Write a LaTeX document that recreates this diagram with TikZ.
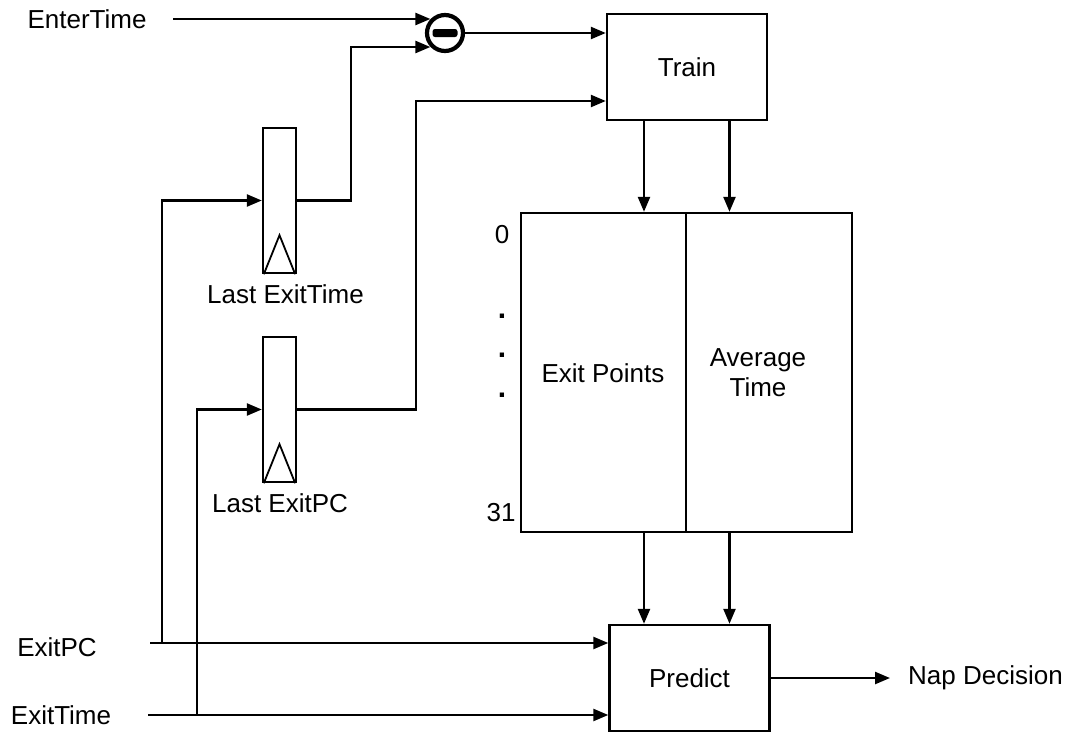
\documentclass[tikz,border=0pt]{standalone}
\usepackage{fontspec}
\setmainfont{Liberation Sans}
\usetikzlibrary{arrows.meta,calc}
\begin{document}
\begin{tikzpicture}[x=1pt,y=-1pt,
  font=\fontsize{26}{30}\selectfont,
  wire/.style={line width=2.4pt},
  arr/.style={wire,-{Triangle[length=15pt,width=12pt]}},
  blk/.style={draw,line width=2.4pt,inner sep=0pt},
  txt/.style={inner sep=0pt,align=center},
  regbox/.style={blk,minimum width=33pt,minimum height=145pt},
  clk/.style={line width=1.8pt},
  dotlbl/.style={txt,anchor=base,font=\fontsize{30}{30}\selectfont\bfseries}
]
\useasboundingbox (0,0) rectangle (1071,732);

% blocks
\node[blk,minimum width=160pt,minimum height=106pt] (train) at (687,67) {Train};
\node[blk,minimum width=165pt,minimum height=319pt] (epcol) at (603.5,372.5) {};
\node[blk,minimum width=166pt,minimum height=319pt] (atcol) at (769,372.5) {};
\node[txt] (eptxt) at (603,373) {Exit Points};
\node[txt] (attxt) at (758,373) {Average\\Time};
\node[blk,minimum width=160pt,minimum height=106pt] (predict) at (689.5,678) {Predict};

% row index labels
\node[txt] (i0) at (502,235) {0};
\node[dotlbl] (d1) at (502,318) {.};
\node[dotlbl] (d2) at (502,357) {.};
\node[dotlbl] (d3) at (502,397) {.};
\node[txt] (i31) at (501,513) {31};

% registers
\node[regbox] (reg1) at (279.5,200.5) {};
\draw[clk] ($(reg1.south west)+(2,0)$) -- ($(reg1.south)+(0,-39)$) -- ($(reg1.south east)+(-2,0)$);
\node[txt] (reg1lbl) at (285.5,294) {Last ExitTime};
\node[regbox] (reg2) at (279.5,409.5) {};
\draw[clk] ($(reg2.south west)+(2,0)$) -- ($(reg2.south)+(0,-39)$) -- ($(reg2.south east)+(-2,0)$);
\node[txt] (reg2lbl) at (280,503) {Last ExitPC};

% subtractor
\node[draw,circle,line width=4.2pt,minimum size=36pt,inner sep=0pt] (sub) at (445,33) {};
\fill[rounded corners=2.5pt] ($(sub.center)+(-12.5,-4)$) rectangle ($(sub.center)+(12.5,4)$);

% input / output labels
\node[txt] (enter) at (87,19) {EnterTime};
\node[txt] (exitpc) at (57,647) {ExitPC};
\node[txt] (exittime) at (61,715) {ExitTime};
\node[txt,anchor=west] (nap) at (908,678) {Nap Decision};

% helper coordinates
\coordinate (es) at (173,19);
\coordinate (b1) at (351,200.5);
\coordinate (b1t) at (351,47);
\coordinate (b2) at (416,409.5);
\coordinate (b2t) at (416,101);
\coordinate (pcs) at (150,643);
\coordinate (pcj) at (162,643);
\coordinate (pcu) at (162,200.5);
\coordinate (ts) at (148,715);
\coordinate (tj) at (197,715);
\coordinate (tu) at (197,409.5);
\coordinate (c1) at (644,0);
\coordinate (c2) at (729.5,0);

% wires
\draw[arr] (es) -- ($(sub.center)+(-14.6,-14)$);
\draw[arr] (reg1.east) -- (b1) -- (b1t) -- ($(sub.center)+(-14.6,14)$);
\draw[arr] (sub.east) -- (train.west |- sub.east);
\draw[arr] (reg2.east) -- (b2) -- (b2t) -- (train.west |- b2t);

\draw[arr] (train.south -| c1) -- (epcol.north -| c1);
\draw[arr] (train.south -| c2) -- (atcol.north -| c2);
\draw[arr] (epcol.south -| c1) -- (predict.north -| c1);
\draw[arr] (atcol.south -| c2) -- (predict.north -| c2);

\draw[arr] (pcs) -- (predict.west |- pcs);
\draw[arr] (pcj) -- (pcu) -- (reg1.west);
\draw[arr] (ts) -- (predict.west |- ts);
\draw[arr] (tj) -- (tu) -- (reg2.west);

\draw[arr] (predict.east) -- ($(nap.west)+(-18,0)$);
\end{tikzpicture}
\end{document}
